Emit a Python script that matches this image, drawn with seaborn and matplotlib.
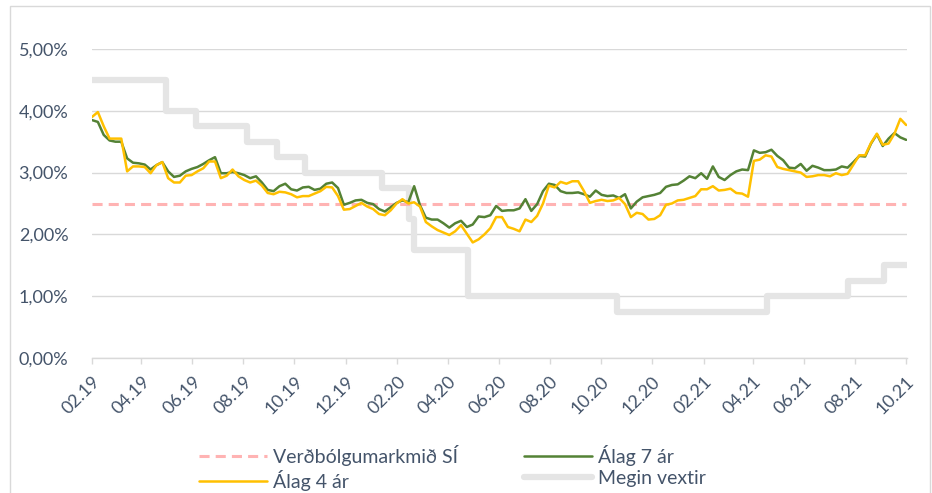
import matplotlib
matplotlib.use('Agg')
import matplotlib.pyplot as plt
import matplotlib.dates as mdates
from matplotlib.ticker import FuncFormatter
from matplotlib.patches import Rectangle
import numpy as np
import pandas as pd
import seaborn as sns

sns.set_theme(style='white')
plt.rcParams['font.family'] = ['Lato', 'DejaVu Sans']

# vikuleg gildi, feb 2019 - okt 2021
dates = pd.date_range('2019-02-01', periods=140, freq='7D')

alag_7 = [3.85, 3.82, 3.61, 3.52, 3.50, 3.50, 3.23, 3.16, 3.15, 3.13,
          3.05, 3.12, 3.17, 3.02, 2.93, 2.95, 3.02, 3.06, 3.09, 3.14,
          3.20, 3.25, 2.99, 2.99, 3.01, 2.99, 2.96, 2.91, 2.94, 2.84,
          2.72, 2.70, 2.78, 2.82, 2.73, 2.71, 2.76, 2.77, 2.72, 2.74,
          2.82, 2.84, 2.75, 2.48, 2.51, 2.55, 2.56, 2.51, 2.49, 2.41,
          2.37, 2.44, 2.51, 2.55, 2.52, 2.78, 2.47, 2.27, 2.24, 2.24,
          2.18, 2.11, 2.18, 2.22, 2.12, 2.16, 2.29, 2.28, 2.31, 2.46,
          2.38, 2.39, 2.39, 2.42, 2.57, 2.38, 2.49, 2.70, 2.82, 2.80,
          2.70, 2.67, 2.67, 2.68, 2.65, 2.61, 2.71, 2.64, 2.62, 2.63,
          2.59, 2.65, 2.42, 2.53, 2.60, 2.62, 2.64, 2.67, 2.77, 2.80,
          2.81, 2.87, 2.94, 2.91, 2.99, 2.90, 3.10, 2.93, 2.88, 2.96,
          3.02, 3.05, 3.04, 3.36, 3.32, 3.33, 3.37, 3.27, 3.20, 3.08,
          3.07, 3.14, 3.03, 3.11, 3.08, 3.04, 3.04, 3.05, 3.10, 3.08,
          3.17, 3.27, 3.26, 3.47, 3.62, 3.43, 3.55, 3.64, 3.57, 3.53]

alag_4 = [3.90, 3.98, 3.75, 3.55, 3.55, 3.55, 3.02, 3.10, 3.10, 3.09,
          2.99, 3.12, 3.17, 2.91, 2.84, 2.84, 2.95, 2.96, 3.02, 3.07,
          3.18, 3.18, 2.91, 2.95, 3.05, 2.94, 2.88, 2.84, 2.87, 2.79,
          2.67, 2.65, 2.69, 2.68, 2.65, 2.60, 2.62, 2.62, 2.66, 2.70,
          2.77, 2.76, 2.62, 2.40, 2.41, 2.46, 2.51, 2.45, 2.41, 2.33,
          2.31, 2.39, 2.50, 2.57, 2.50, 2.52, 2.45, 2.20, 2.13, 2.07,
          2.03, 1.99, 2.05, 2.15, 2.01, 1.87, 1.92, 2.00, 2.10, 2.28,
          2.28, 2.12, 2.09, 2.05, 2.24, 2.20, 2.30, 2.50, 2.79, 2.76,
          2.85, 2.82, 2.86, 2.86, 2.70, 2.51, 2.54, 2.56, 2.54, 2.55,
          2.59, 2.49, 2.28, 2.35, 2.33, 2.24, 2.25, 2.31, 2.48, 2.50,
          2.55, 2.56, 2.59, 2.62, 2.73, 2.73, 2.78, 2.71, 2.72, 2.74,
          2.67, 2.66, 2.61, 3.19, 3.21, 3.28, 3.26, 3.09, 3.06, 3.04,
          3.02, 3.00, 2.93, 2.94, 2.96, 2.96, 2.94, 2.99, 2.96, 2.98,
          3.13, 3.28, 3.28, 3.48, 3.63, 3.45, 3.47, 3.63, 3.87, 3.77]

verdbolgumarkmid = 2.5

vaxta_dagar = pd.to_datetime(['2019-02-01', '2019-05-01', '2019-06-05', '2019-08-05',
                              '2019-09-10', '2019-10-14', '2020-01-13', '2020-02-15',
                              '2020-02-21', '2020-04-25', '2020-10-21', '2021-04-18',
                              '2021-07-24', '2021-09-05', '2021-10-02'])
megin_vextir = [4.5, 4.0, 3.75, 3.5, 3.25, 3.0, 2.75, 2.25,
                1.75, 1.0, 0.75, 1.0, 1.25, 1.5, 1.5]

text_col = '#44546A'
grid_col = '#D9D9D9'

fig = plt.figure(figsize=(9.32, 4.93), dpi=100)
ax = fig.add_axes([92/932, 1-358/493, (907-92)/932, (358-49)/493])

sns.lineplot(x=vaxta_dagar, y=megin_vextir, ax=ax, color='#E5E5E5', linewidth=4.5,
             drawstyle='steps-post', solid_capstyle='round', solid_joinstyle='round',
             label='Megin vextir', zorder=2)
sns.lineplot(x=dates, y=[verdbolgumarkmid]*len(dates), ax=ax, color='#FFB3B3',
             linewidth=2.2, linestyle=(0, (3.3, 2)), label='Verðbólgumarkmið SÍ', zorder=3)
sns.lineplot(x=dates, y=alag_7, ax=ax, color='#548235', linewidth=1.8,
             label='Álag 7 ár', zorder=4)
sns.lineplot(x=dates, y=alag_4, ax=ax, color='#FFC000', linewidth=1.8,
             label='Álag 4 ár', zorder=5)

ax.set_xlim(pd.Timestamp('2019-02-01'), pd.Timestamp('2021-10-02'))
ax.set_ylim(0, 5)
ax.set_yticks([0, 1, 2, 3, 4, 5])
ax.yaxis.set_major_formatter(FuncFormatter(lambda v, p: f'{v:.2f}%'.replace('.', ',')))
ax.xaxis.set_major_locator(mdates.MonthLocator(bymonth=[2, 4, 6, 8, 10, 12]))
ax.xaxis.set_major_formatter(mdates.DateFormatter('%m.%y'))
ax.set_xlabel('')
ax.set_ylabel('')

ax.yaxis.grid(True, color=grid_col, linewidth=1)
ax.xaxis.grid(False)
for s in ['left', 'right', 'top']:
    ax.spines[s].set_visible(False)
ax.spines['bottom'].set_color(grid_col)
ax.spines['bottom'].set_linewidth(1)

ax.tick_params(axis='y', length=0, pad=17, labelsize=13, labelcolor=text_col)
ax.tick_params(axis='x', length=4, width=1, color=grid_col, direction='out',
               pad=7, labelsize=13, labelcolor=text_col, bottom=True)
plt.setp(ax.get_xticklabels(), rotation=45, ha='right', va='top', rotation_mode='anchor')

handles, labels = ax.get_legend_handles_labels()
ax.get_legend().remove()
order = ['Verðbólgumarkmið SÍ', 'Álag 4 ár', 'Álag 7 ár', 'Megin vextir']
hmap = dict(zip(labels, handles))
fig.legend([hmap[l] for l in order], order, ncol=2, loc='center',
           bbox_to_anchor=(452/932, 1-468/493), frameon=False, fontsize=14,
           handlelength=3.5, handletextpad=0.3, columnspacing=3.4,
           labelspacing=0.22, labelcolor=text_col)

fig.patches.append(Rectangle((10/932, -0.01), 920/932, 1-6/493+0.01,
                             transform=fig.transFigure, fill=False,
                             edgecolor=grid_col, linewidth=1))

fig.savefig('out.png', dpi=100)
